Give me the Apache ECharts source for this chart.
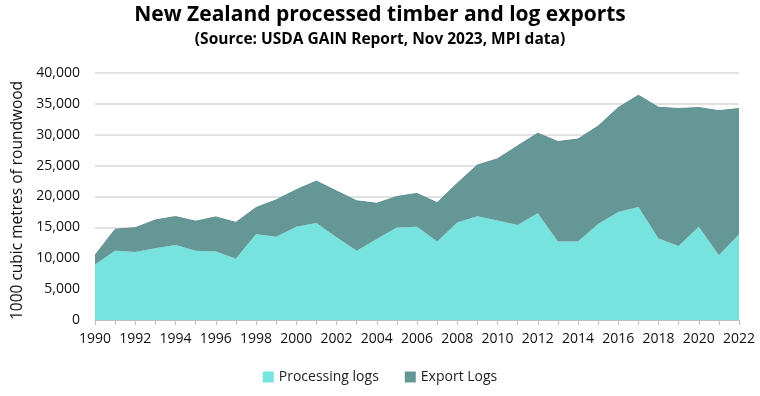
<!DOCTYPE html>
<html>
<head>
<meta charset="utf-8">
<script src="https://cdn.jsdelivr.net/npm/echarts@6/dist/echarts.min.js"></script>
<style>
  html, body { margin: 0; padding: 0; background: #fff; }
  #chart { width: 760px; height: 396px; }
</style>
</head>
<body>
<div id="chart"></div>
<script>
// --- data (1000 m3 roundwood) ---
const years = []
for (let y = 1990; y <= 2022; y++) years.push(String(y))

const processingLogs = [
  9000, 11200, 11000, 11600, 12150, 11200, 11100, 9900, 13900, 13500,
  15100, 15700, 13400, 11200, 13100, 15000, 15100, 12700, 15800, 16800,
  16100, 15400, 17300, 12700, 12700, 15550, 17500, 18300, 13200, 12000,
  15100, 10500, 13900
]
const exportLogs = [
  1500, 3500, 3950, 4600, 4600, 4800, 5600, 5900, 4300, 5950,
  6000, 6800, 7500, 8100, 5800, 5000, 5400, 6300, 6350, 8300,
  10000, 12800, 12950, 16200, 16600, 15850, 16900, 18100, 21250, 22250,
  19300, 23400, 20350
]

const FONT = 'Open Sans, sans-serif'

const chart = echarts.init(document.getElementById('chart'))

chart.setOption({
  backgroundColor: '#fff',
  animation: false,
  title: {
    text: 'New Zealand processed timber and log exports',
    subtext: '(Source: USDA GAIN Report, Nov 2023, MPI data)',
    left: 'center',
    top: 0,
    itemGap: 6,
    textStyle: { fontFamily: FONT, fontSize: 21, fontWeight: 'bold', color: '#000' },
    subtextStyle: { fontFamily: FONT, fontSize: 15.5, fontWeight: 'bold', color: '#000' }
  },
  legend: {
    bottom: 7,
    left: 'center',
    itemWidth: 11,
    itemHeight: 11,
    itemGap: 26,
    icon: 'rect',
    textStyle: { fontFamily: FONT, fontSize: 14, color: '#222' },
    data: ['Processing logs', 'Export Logs']
  },
  grid: { left: 95, right: 21, top: 73, bottom: 76, outerBoundsMode: 'none' },
  xAxis: {
    type: 'category',
    data: years,
    boundaryGap: false,
    axisLine: { lineStyle: { color: '#bfbfbf' } },
    axisTick: { interval: 0, length: 5, lineStyle: { color: '#bfbfbf' } },
    axisLabel: { interval: 1, fontFamily: FONT, fontSize: 14, color: '#111', margin: 12 }
  },
  yAxis: {
    type: 'value',
    min: 0,
    max: 40000,
    interval: 5000,
    name: '1000 cubic metres of roundwood',
    nameLocation: 'middle',
    nameGap: 68,
    nameTextStyle: { fontFamily: FONT, fontSize: 15.5, color: '#111', padding: [0, 0, 0, -8] },
    axisLine: { show: false },
    axisTick: { show: false },
    axisLabel: {
      fontFamily: FONT, fontSize: 14, color: '#111', margin: 15,
      formatter: v => v.toLocaleString('en-US')
    },
    splitLine: { lineStyle: { color: '#d9d9d9', width: 1.5 } }
  },
  series: [
    {
      name: 'Processing logs',
      type: 'line',
      stack: 'total',
      data: processingLogs,
      symbol: 'none',
      lineStyle: { width: 0 },
      itemStyle: { color: '#76e3df' },
      areaStyle: { color: '#76e3df', opacity: 1 }
    },
    {
      name: 'Export Logs',
      type: 'line',
      stack: 'total',
      data: exportLogs,
      symbol: 'none',
      lineStyle: { width: 1, color: '#5e9190' },
      itemStyle: { color: '#659796' },
      areaStyle: { color: '#659796', opacity: 1 }
    }
  ]
})
</script>
</body>
</html>
